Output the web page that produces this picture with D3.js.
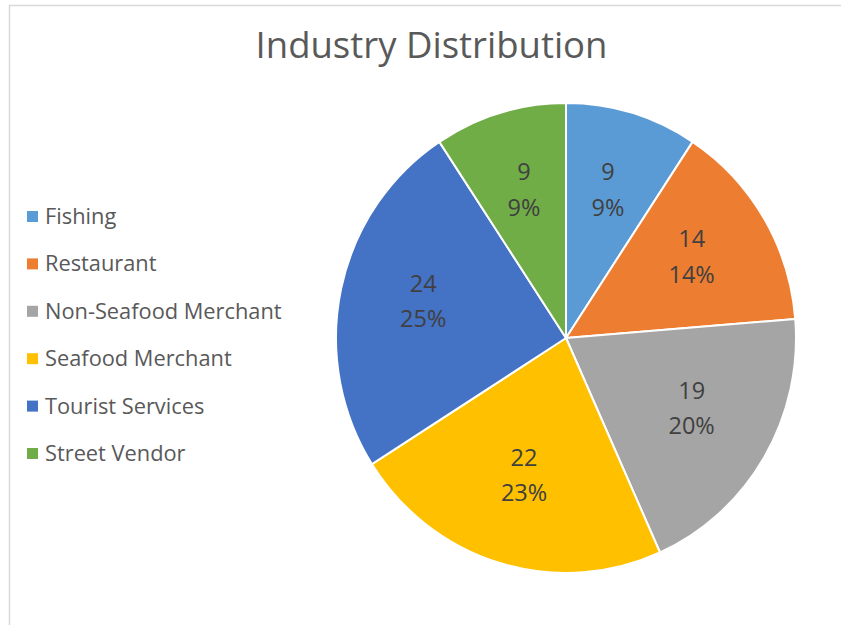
<!DOCTYPE html>
<html>
<head>
<meta charset="utf-8">
<script src="https://cdn.jsdelivr.net/npm/d3@7"></script>
<style>
  body { margin: 0; background: #fff; }
  svg { display: block; }
</style>
</head>
<body>
<script>
const categories = ['Fishing', 'Restaurant', 'Non-Seafood Merchant', 'Seafood Merchant', 'Tourist Services', 'Street Vendor'];
const values = [9, 14, 19, 22, 24, 9];
const colors = ['#5B9BD5', '#ED7D31', '#A5A5A5', '#FFC000', '#4472C4', '#70AD47'];
const title = 'Industry Distribution';

const width = 841, height = 625;
const cx = 566, cy = 338;
const radius = 230;
const yStretch = 235 / 230;
const labelRadius = 146;
const font = '"Open Sans", sans-serif';

const svg = d3.select('body').append('svg')
  .attr('width', width)
  .attr('height', height);

// chart frame
svg.append('rect')
  .attr('x', 9.5).attr('y', 5.5)
  .attr('width', 900).attr('height', 700)
  .attr('fill', '#fff')
  .attr('stroke', '#d9d9d9')
  .attr('stroke-width', 1.5);

svg.append('text')
  .attr('x', 431.5).attr('y', 58)
  .attr('text-anchor', 'middle')
  .attr('font-family', font)
  .attr('font-size', 36.5)
  .attr('fill', '#595959')
  .text(title);

const total = d3.sum(values);
const data = categories.map((c, i) => ({name: c, value: values[i], color: colors[i]}));

const pie = d3.pie().sort(null).value(d => d.value);
const arc = d3.arc().innerRadius(0).outerRadius(radius);
const labelArc = d3.arc().innerRadius(labelRadius).outerRadius(labelRadius);
const arcs = pie(data);

const graph = svg.append('g')
  .attr('transform', `translate(${cx},${cy}) scale(1,${yStretch})`);

graph.selectAll('path')
  .data(arcs)
  .enter()
  .append('path')
  .attr('d', arc)
  .attr('fill', d => d.data.color)
  .attr('stroke', '#fff')
  .attr('stroke-width', 2)
  .attr('stroke-linejoin', 'round');

const labels = svg.append('g')
  .attr('transform', `translate(${cx},${cy})`);

const lab = labels.selectAll('text')
  .data(arcs)
  .enter()
  .append('text')
  .attr('transform', d => {
    const [x, y] = labelArc.centroid(d);
    return `translate(${x},${y * yStretch})`;
  })
  .attr('text-anchor', 'middle')
  .attr('font-family', font)
  .attr('font-size', 23.5)
  .attr('fill', '#404040');

lab.append('tspan')
  .attr('x', 0).attr('dy', -15)
  .text(d => d.data.value);
lab.append('tspan')
  .attr('x', 0).attr('dy', 35.5)
  .text(d => Math.round(d.data.value / total * 100) + '%');

// legend
const legend = svg.append('g')
  .attr('transform', 'translate(27,216.5)');

const item = legend.selectAll('g')
  .data(data)
  .enter()
  .append('g')
  .attr('transform', (d, i) => `translate(0,${i * 47.4})`);

item.append('rect')
  .attr('x', 0).attr('y', -5.5)
  .attr('width', 11).attr('height', 11)
  .attr('fill', d => d.color);

item.append('text')
  .attr('x', 18).attr('y', 7.5)
  .attr('font-family', font)
  .attr('font-size', 21.8)
  .attr('fill', '#595959')
  .text(d => d.name);
</script>
</body>
</html>
